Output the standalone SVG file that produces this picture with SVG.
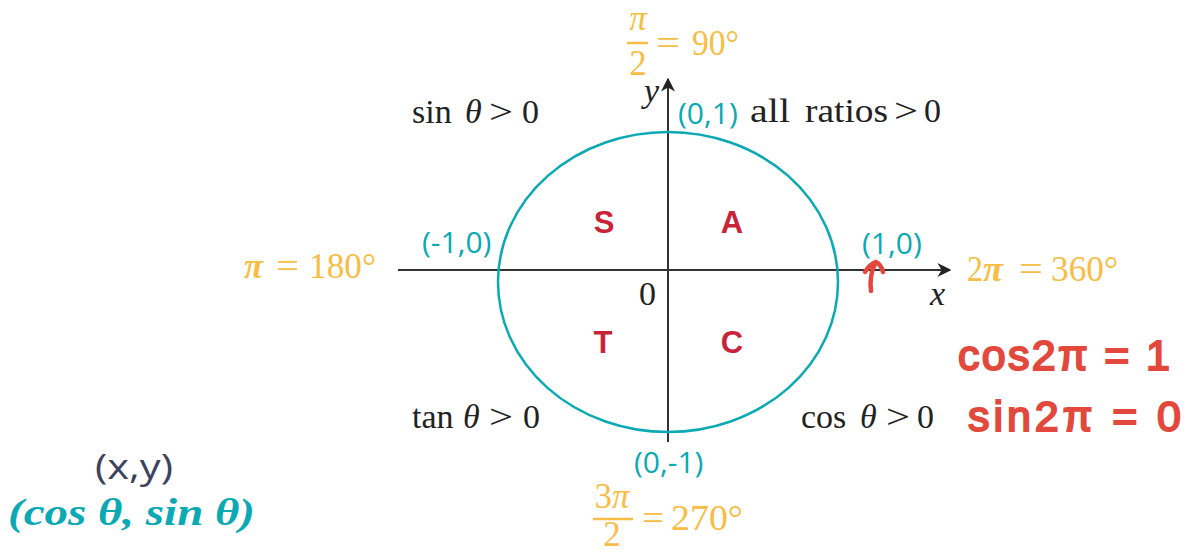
<svg xmlns="http://www.w3.org/2000/svg" width="1189" height="552" viewBox="0 0 1189 552">
<defs>
<style>
.serif{font-family:"Liberation Serif","DejaVu Serif",serif;fill:#222;font-size:34px}
.it{font-style:italic}
.teal{font-family:"Open Sans","Noto Sans",sans-serif;fill:#0AA9B3;font-size:30px}
.org{font-family:"Liberation Serif","DejaVu Serif",serif;fill:#F7BD45;font-size:35px}
.q{font-family:"Liberation Sans","Open Sans",sans-serif;font-weight:bold;fill:#C9233A;font-size:31px}
.hand{font-family:"Liberation Sans",sans-serif;fill:#E2483B;stroke:#E2483B;stroke-width:2;font-size:43px}
</style>
<marker id="ah" viewBox="0 0 10 10" refX="9" refY="5" markerWidth="14" markerHeight="14" orient="auto" markerUnits="userSpaceOnUse">
<path d="M0,0 L10,5 L0,10 L3,5 Z" fill="#222"/>
</marker>
</defs>
<rect width="1189" height="552" fill="#fff"/>
<g id="connectors" stroke="#333" stroke-width="2" fill="none">
<line x1="398" y1="270" x2="950" y2="270" marker-end="url(#ah)"/>
<line x1="668" y1="442" x2="668" y2="79" marker-end="url(#ah)"/>
</g>
<g id="circle"><ellipse cx="668" cy="282" rx="170" ry="150" fill="none" stroke="#0AA9B3" stroke-width="2.5"/></g>
<g id="axis-labels">
<text class="serif it" x="644" y="102" font-size="26">y</text>
<text class="serif it" x="930" y="305" font-size="26">x</text>
<text class="serif" x="639" y="305" font-size="28">0</text>
</g>
<g id="quadrant-letters">
<text class="q" x="604" y="233" text-anchor="middle">S</text>
<text class="q" x="732" y="233" text-anchor="middle">A</text>
<text class="q" x="603" y="353" text-anchor="middle">T</text>
<text class="q" x="732" y="353" text-anchor="middle">C</text>
</g>
<g id="signs">
<text class="serif" y="123"><tspan x="412">sin</tspan><tspan class="it" x="465">θ</tspan><tspan x="489" textLength="24" lengthAdjust="spacingAndGlyphs">&gt;</tspan><tspan x="522">0</tspan></text>
<text class="serif" y="122"><tspan x="750" textLength="40" lengthAdjust="spacingAndGlyphs">all</tspan><tspan x="805" textLength="83" lengthAdjust="spacingAndGlyphs">ratios</tspan><tspan x="894" textLength="24" lengthAdjust="spacingAndGlyphs">&gt;</tspan><tspan x="924">0</tspan></text>
<text class="serif" y="428"><tspan x="412">tan</tspan><tspan class="it" x="463">θ</tspan><tspan x="489" textLength="24" lengthAdjust="spacingAndGlyphs">&gt;</tspan><tspan x="523">0</tspan></text>
<text class="serif" y="428"><tspan x="801">cos</tspan><tspan class="it" x="860">θ</tspan><tspan x="886" textLength="24" lengthAdjust="spacingAndGlyphs">&gt;</tspan><tspan x="917">0</tspan></text>
</g>
<g id="points">
<text class="teal" x="678" y="124">(0,1)</text>
<text class="teal" x="422" y="253">(-1,0)</text>
<text class="teal" x="862" y="254">(1,0)</text>
<text class="teal" x="634" y="473">(0,-1)</text>
</g>
<g id="angles">
<text class="org it" x="638" y="30" text-anchor="middle" font-size="30">π</text>
<line x1="627" y1="43" x2="648" y2="43" stroke="#F7BD45" stroke-width="2.5"/>
<text class="org" x="638" y="75" text-anchor="middle" font-size="29">2</text>
<text class="org" y="55"><tspan x="656" textLength="24" lengthAdjust="spacingAndGlyphs">=</tspan><tspan x="692" textLength="47" lengthAdjust="spacingAndGlyphs">90°</tspan></text>
<text class="org" y="278"><tspan x="244" font-weight="bold" font-style="italic" textLength="19" lengthAdjust="spacingAndGlyphs">π</tspan><tspan x="276" textLength="23" lengthAdjust="spacingAndGlyphs">=</tspan><tspan x="309" textLength="67" lengthAdjust="spacingAndGlyphs">180°</tspan></text>
<text class="org" y="281"><tspan x="967" textLength="16" lengthAdjust="spacingAndGlyphs">2</tspan><tspan x="983" font-weight="bold" font-style="italic" textLength="20" lengthAdjust="spacingAndGlyphs">π</tspan><tspan x="1019" textLength="24" lengthAdjust="spacingAndGlyphs">=</tspan><tspan x="1051" textLength="67" lengthAdjust="spacingAndGlyphs">360°</tspan></text>
<text class="org" x="612" y="508" text-anchor="middle" font-size="31">3<tspan font-style="italic">π</tspan></text>
<line x1="593" y1="519" x2="633" y2="519" stroke="#F7BD45" stroke-width="2.5"/>
<text class="org" x="612" y="546" text-anchor="middle" font-size="30">2</text>
<text class="org" y="530"><tspan x="642" textLength="22" lengthAdjust="spacingAndGlyphs">=</tspan><tspan x="671" textLength="72" lengthAdjust="spacingAndGlyphs">270°</tspan></text>
</g>
<g id="coords">
<text x="95" y="479" font-family="Open Sans,Noto Sans,sans-serif" font-size="34" fill="#3D4261" textLength="78" lengthAdjust="spacingAndGlyphs">(x,y)</text>
<text x="8" y="525" font-family="Liberation Serif,DejaVu Serif,serif" font-size="37" font-weight="bold" font-style="italic" fill="#0AA9B3" textLength="247" lengthAdjust="spacingAndGlyphs">(cos θ, sin θ)</text>
</g>
<g id="annotation">
<path d="M871,291 C870,283 870,274 875,264 M865,272 C869,266 873,263 876,262 C880,264 882,268 883,272" fill="none" stroke="#E2483B" stroke-width="4.5" stroke-linecap="round" stroke-linejoin="round"/>
<text class="hand" x="958" y="370" textLength="212" lengthAdjust="spacing">cos2π = 1</text>
<text class="hand" x="968" y="431" textLength="213" lengthAdjust="spacing">sin2π = 0</text>
</g>
</svg>
